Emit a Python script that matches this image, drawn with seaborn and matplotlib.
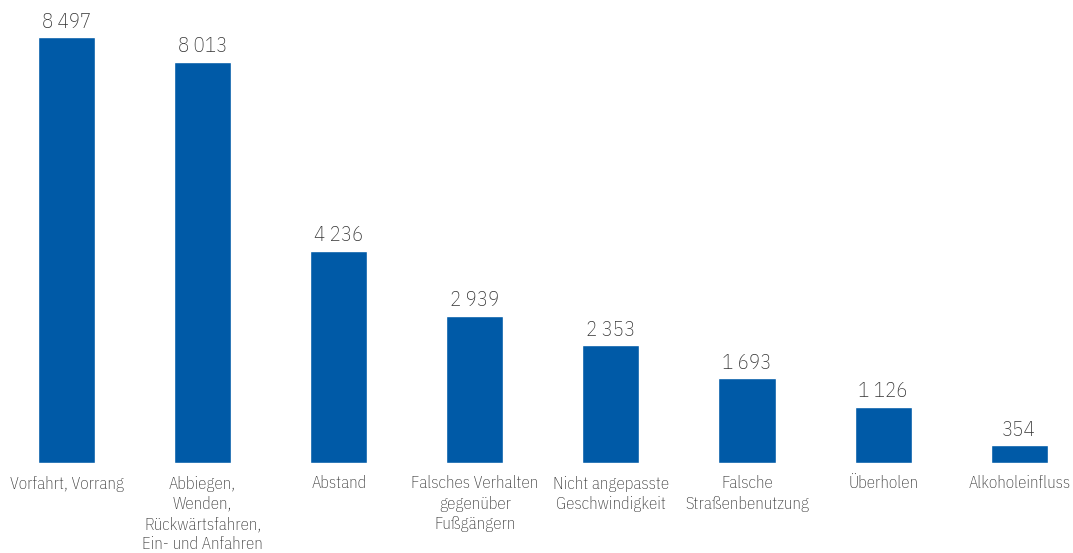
import matplotlib
matplotlib.use("Agg")
import matplotlib.pyplot as plt
import seaborn as sns
import pandas as pd

categories = [
    "Vorfahrt, Vorrang",
    "Abbiegen,\nWenden,\nRückwärtsfahren,\nEin- und Anfahren",
    "Abstand",
    "Falsches Verhalten\ngegenüber\nFußgängern",
    "Nicht angepasste\nGeschwindigkeit",
    "Falsche\nStraßenbenutzung",
    "Überholen",
    "Alkoholeinfluss",
]
values = [8497, 8013, 4236, 2939, 2353, 1693, 1126, 354]

df = pd.DataFrame({"cause": categories, "count": values})

sns.set_theme(style="white")
plt.rcParams["font.family"] = ["IBM Plex Sans Condensed", "Roboto", "DejaVu Sans"]

fig = plt.figure(figsize=(10.73, 5.53), dpi=100)
ax = fig.add_axes([0, 90 / 553, 1, 476 / 553])

sns.barplot(data=df, x="cause", y="count", color="#005aa7", saturation=1,
            width=0.42, ax=ax)

ax.set_xlim(-66.5 / 136.1, (1073 - 66.5) / 136.1)
ax.set_ylim(0, 9500)

# thousands separated by a thin space
labels = [f"{v:,}".replace(",", "\u2009") for v in values]
ax.bar_label(ax.containers[0], labels=labels, padding=4, fontsize=15,
             color="#333333", fontweight="light")

ax.set_xlabel("")
ax.set_ylabel("")
ax.set_yticks([])
ax.tick_params(axis="x", length=0, pad=9, labelsize=12.2, labelcolor="#333333")
for t in ax.get_xticklabels():
    t.set_linespacing(1.33)
    t.set_verticalalignment("top")
    t.set_fontweight("light")
sns.despine(ax=ax, left=True, bottom=True)

fig.savefig("out.png", dpi=100)
